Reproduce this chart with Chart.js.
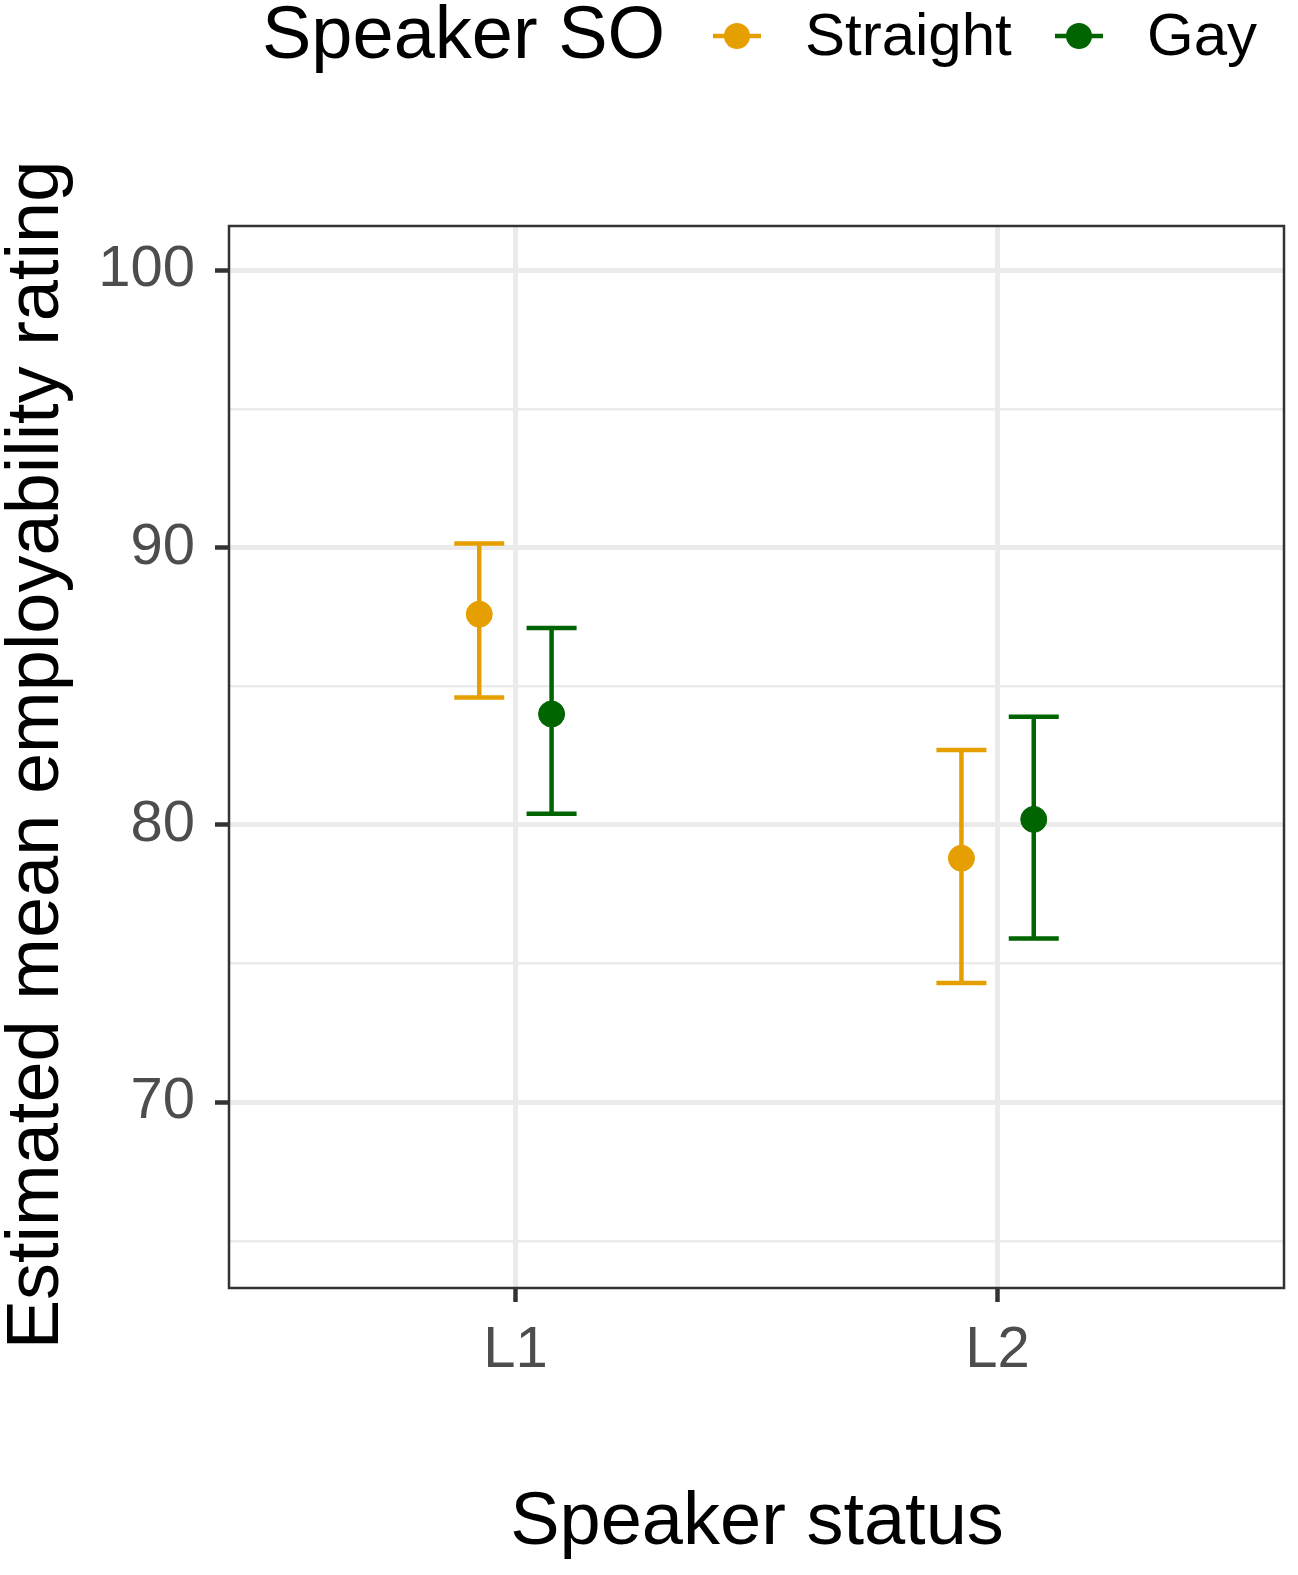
<!DOCTYPE html>
<html>
<head>
<meta charset="utf-8">
<script src="https://cdn.jsdelivr.net/npm/chart.js@4"></script>
<style>
  body { margin: 0; background: #fff; }
  #wrap { width: 1298px; height: 1575px; }
</style>
</head>
<body>
<div id="wrap"><canvas id="chart1" width="1298" height="1575"></canvas></div>
<script>
// data
const categories = ['L1', 'L2'];
const seriesNames = ['Straight', 'Gay'];
const seriesColors = ['#E69F00', '#006400'];
const dodge = [-0.075, 0.075];
const straightMean = [87.6, 78.8];
const straightLow = [84.6, 74.3];
const straightHigh = [90.15, 82.7];
const gayMean = [84.0, 80.2];
const gayLow = [80.4, 75.9];
const gayHigh = [87.1, 83.9];
const yTicks = [65, 70, 75, 80, 85, 90, 95, 100];

const means = [straightMean, gayMean];
const lows = [straightLow, gayLow];
const highs = [straightHigh, gayHigh];

const datasets = seriesNames.map((name, s) => ({
    label: name,
    data: categories.map((c, i) => ({ x: i + 1 + dodge[s], y: means[s][i], lo: lows[s][i], hi: highs[s][i] })),
    backgroundColor: seriesColors[s],
    borderColor: seriesColors[s],
    pointRadius: 13,
    pointHoverRadius: 13
}));

// error bars, frame, titles, legend
const extras = {
    id: 'extras',
    beforeDatasetsDraw(chart) {
        const ctx = chart.ctx, x = chart.scales.x, y = chart.scales.y;
        ctx.save();
        ctx.lineWidth = 4.5;
        chart.data.datasets.forEach(ds => {
            ctx.strokeStyle = ds.borderColor;
            ds.data.forEach(p => {
                const px = x.getPixelForValue(p.x);
                const top = y.getPixelForValue(p.hi), bot = y.getPixelForValue(p.lo);
                ctx.beginPath();
                ctx.moveTo(px, top); ctx.lineTo(px, bot);
                ctx.moveTo(px - 25, top); ctx.lineTo(px + 25, top);
                ctx.moveTo(px - 25, bot); ctx.lineTo(px + 25, bot);
                ctx.stroke();
            });
        });
        ctx.restore();
    },
    afterDraw(chart) {
        const ctx = chart.ctx, a = chart.chartArea;
        ctx.save();
        ctx.strokeStyle = '#333333';
        ctx.lineWidth = 2.5;
        ctx.strokeRect(a.left, a.top, a.right - a.left, a.bottom - a.top);

        ctx.fillStyle = '#000';
        ctx.font = '74px "Liberation Sans", Arial, sans-serif';
        ctx.textAlign = 'center';
        ctx.textBaseline = 'middle';
        ctx.fillText('Speaker status', 757, 1524);
        ctx.save();
        ctx.translate(38, 755);
        ctx.rotate(-Math.PI / 2);
        ctx.font = '74px "Liberation Sans", Arial, sans-serif';
        ctx.fillText('Estimated mean employability rating', 0, 0);
        ctx.restore();

        // legend
        ctx.textAlign = 'left';
        ctx.font = '74px "Liberation Sans", Arial, sans-serif';
        ctx.fillText('Speaker SO', 262, 38);
        ctx.font = '60px "Liberation Sans", Arial, sans-serif';
        const keys = [737, 1079], labelsX = [805, 1147];
        seriesNames.forEach((n, s) => {
            ctx.strokeStyle = seriesColors[s];
            ctx.fillStyle = seriesColors[s];
            ctx.lineWidth = 4.5;
            ctx.beginPath();
            ctx.moveTo(keys[s] - 24, 36); ctx.lineTo(keys[s] + 24, 36);
            ctx.stroke();
            ctx.beginPath();
            ctx.arc(keys[s], 36, 13, 0, Math.PI * 2);
            ctx.fill();
            ctx.fillStyle = '#000';
            ctx.fillText(n, labelsX[s], 38);
        });
        ctx.restore();
    }
};

const ctx = document.querySelector('#chart1').getContext('2d');
const chart = new Chart(ctx, {
    type: 'scatter',
    data: { datasets: datasets },
    options: {
        responsive: false,
        animation: false,
        layout: { padding: { top: 226, right: 4, left: 0, bottom: 0 } },
        plugins: { legend: { display: false }, tooltip: { enabled: false } },
        scales: {
            x: {
                type: 'linear',
                min: 0.406,
                max: 2.594,
                afterBuildTicks: s => { s.ticks = categories.map((c, i) => ({ value: i + 1 })); },
                afterFit: s => { s.height = 287; },
                border: { display: false },
                grid: { color: '#ebebeb', lineWidth: 5, tickColor: '#333333', tickLength: 14, tickWidth: 4.5 },
                ticks: {
                    callback: v => categories[v - 1],
                    color: '#4d4d4d',
                    font: { size: 58, family: '"Liberation Sans", Arial, sans-serif' },
                    padding: 14
                }
            },
            y: {
                min: 63.3,
                max: 101.6,
                afterBuildTicks: s => { s.ticks = yTicks.map(v => ({ value: v })); },
                afterFit: s => { s.width = 229; },
                border: { display: false },
                grid: {
                    color: '#ebebeb',
                    lineWidth: c => (c.tick && c.tick.value % 10 === 0) ? 5 : 2.5,
                    tickColor: c => (c.tick && c.tick.value % 10 === 0) ? '#333333' : 'rgba(0,0,0,0)',
                    tickLength: 14,
                    tickWidth: 4.5
                },
                ticks: {
                    callback: v => (v % 10 === 0 ? String(v) : ''),
                    color: '#4d4d4d',
                    font: { size: 58, family: '"Liberation Sans", Arial, sans-serif' },
                    padding: 20
                }
            }
        }
    },
    plugins: [extras]
});
</script>
</body>
</html>
